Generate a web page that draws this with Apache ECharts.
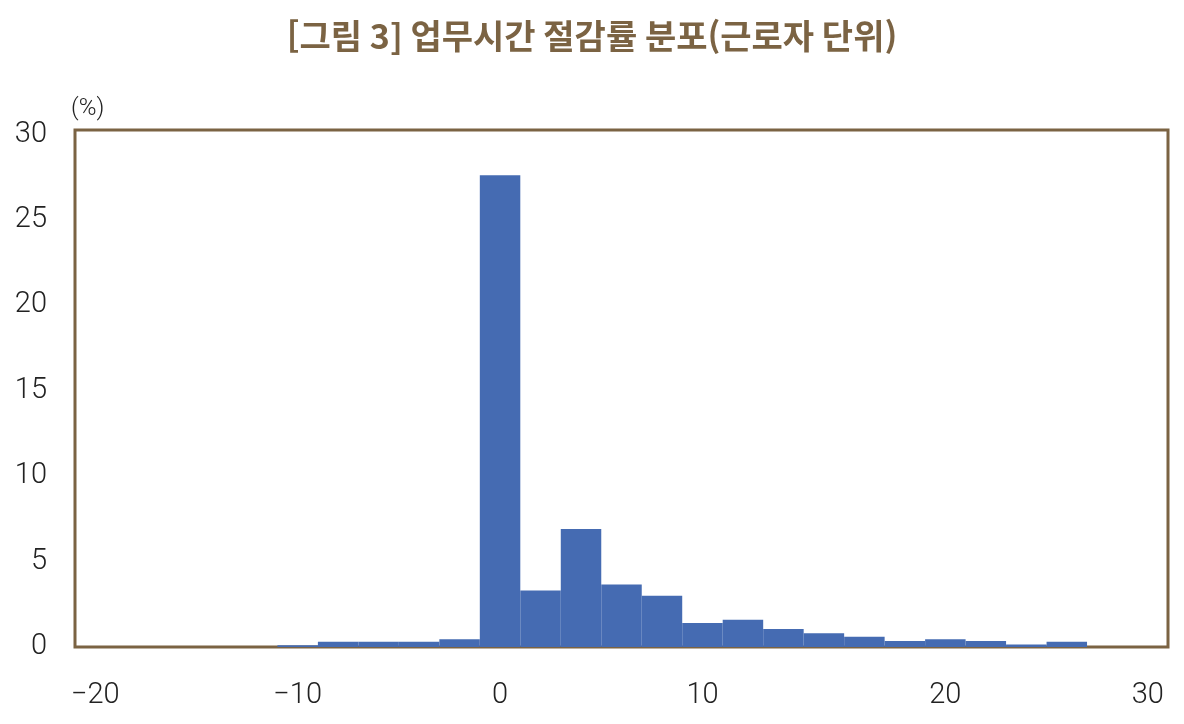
<!DOCTYPE html>
<html lang="ko">
<head>
    <meta charset="UTF-8">
    <title>업무시간 절감률 분포</title>
    <script type="text/javascript" src="https://cdn.jsdelivr.net/npm/echarts@6/dist/echarts.min.js"></script>
</head>
<body style="margin:0;">
<div id="main" style="width: 1184px;height:724px;"></div>
<script type="text/javascript">
    // 구간(bin) 27개, 각 구간의 근로자 비중(%)
    var bins = ['b01','b02','b03','b04','b05','b06','b07','b08','b09','b10',
                'b11','b12','b13','b14','b15','b16','b17','b18','b19','b20',
                'b21','b22','b23','b24','b25','b26','b27'];
    var shares = [0, 0, 0, 0, 0, 0.1, 0.3, 0.3, 0.3, 0.45,
                  27.6, 3.3, 6.9, 3.65, 3.0, 1.4, 1.6, 1.05, 0.8, 0.6,
                  0.35, 0.45, 0.35, 0.15, 0.3, 0, 0];
    // x축 눈금 라벨이 붙는 구간 위치와 라벨
    var tickIndex = [0, 5, 10, 15, 21, 26];
    var tickText = ['\u221220', '\u221210', '0', '10', '20', '30'];
    var yTicks = [0, 5, 10, 15, 20, 25, 30];

    var brown = '#7b6343';
    var myChart = echarts.init(document.getElementById('main'));

    var option = {
        backgroundColor: '#fff',
        title: {
            text: '[그림 3] 업무시간 절감률 분포(근로자 단위)',
            left: 'center',
            top: 14,
            textStyle: {
                color: brown,
                fontSize: 34,
                fontWeight: 'bold',
                fontFamily: 'Noto Sans CJK KR'
            }
        },
        grid: {
            left: 75,
            right: 16,
            top: 130,
            bottom: 77,
            show: true,
            borderColor: brown,
            borderWidth: 3,
            backgroundColor: 'transparent'
        },
        xAxis: {
            type: 'category',
            data: bins,
            boundaryGap: true,
            axisLine: {show: false},
            axisTick: {show: false},
            splitLine: {show: false},
            axisLabel: {
                interval: function (i) {
                    return tickIndex.indexOf(i) >= 0;
                },
                formatter: function (v, i) {
                    return tickText[tickIndex.indexOf(i)];
                },
                margin: 34,
                fontSize: 29,
                fontFamily: 'Roboto',
                fontWeight: 300,
                color: '#222'
            }
        },
        yAxis: {
            type: 'value',
            min: 0,
            max: 30.25,
            interval: 5,
            name: '(%)',
            nameLocation: 'end',
            nameGap: 9,
            nameTextStyle: {
                align: 'left',
                padding: [0, 0, 0, -4],
                fontSize: 24,
                fontFamily: 'Roboto',
                fontWeight: 300,
                color: '#222'
            },
            axisLine: {show: false},
            axisTick: {show: false},
            splitLine: {show: false},
            axisLabel: {
                formatter: function (v) {
                    return yTicks.indexOf(v) >= 0 ? String(v) : '';
                },
                margin: 28,
                fontSize: 29,
                fontFamily: 'Roboto',
                fontWeight: 300,
                color: '#222'
            }
        },
        series: [
            {
                type: 'bar',
                data: shares,
                barCategoryGap: '0%',
                itemStyle: {color: '#456bb2'},
                z: 1
            }
        ]
    };

    myChart.setOption(option);
</script>
</body>
</html>
